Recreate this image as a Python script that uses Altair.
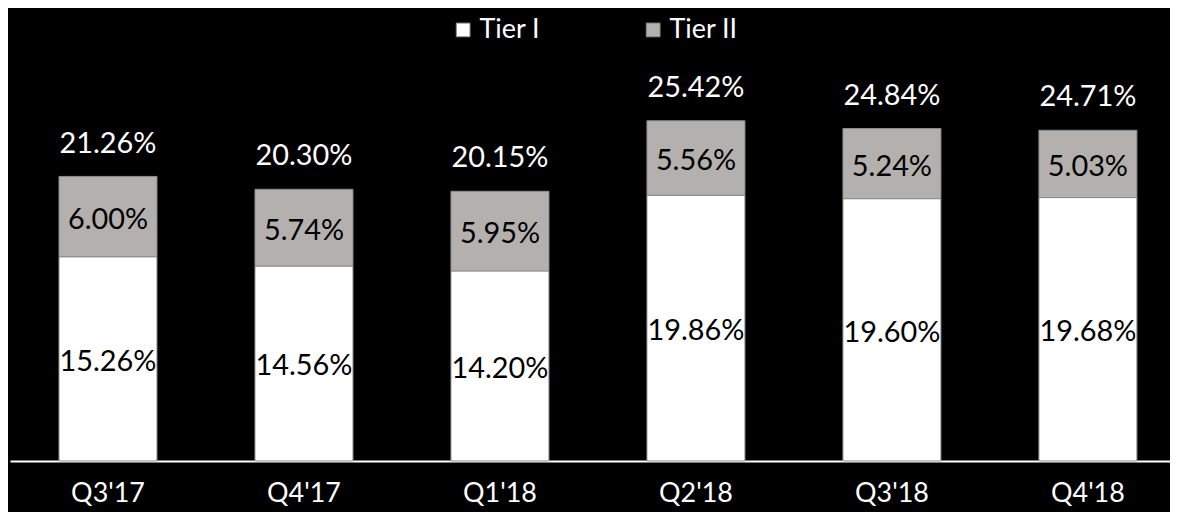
import altair as alt
import pandas as pd

quarters = ["Q3'17", "Q4'17", "Q1'18", "Q2'18", "Q3'18", "Q4'18"]
tier1 = [15.26, 14.56, 14.20, 19.86, 19.60, 19.68]
tier2 = [6.00, 5.74, 5.95, 5.56, 5.24, 5.03]
totals = [21.26, 20.30, 20.15, 25.42, 24.84, 24.71]
series = ["Tier I", "Tier II"]

rows = []
for q, a, b in zip(quarters, tier1, tier2):
    rows.append({"q": q, "series": series[0], "y0": 0.0, "y1": a, "val": a, "ord": 0})
    rows.append({"q": q, "series": series[1], "y0": a, "y1": a + b, "val": b, "ord": 1})
df = pd.DataFrame(rows)
df["mid"] = (df["y0"] + df["y1"]) / 2
df["label"] = df["val"].map(lambda v: f"{v:.2f}%")

tot = pd.DataFrame({"q": quarters, "total": totals, "top": [a + b for a, b in zip(tier1, tier2)]})
tot["label"] = tot["total"].map(lambda v: f"{v:.2f}%")

FONT = "Lato"
xscale = alt.Scale(paddingInner=0.5, paddingOuter=0.25, range=[0, 1182])
xenc = alt.X("q:N", sort=quarters, scale=xscale,
             axis=alt.Axis(title=None, labelAngle=0, labelFontSize=27, labelColor="white",
                           labelFont=FONT, ticks=False, domainColor="white", domainWidth=2,
                           labelPadding=20, grid=False))
yscale = alt.Scale(domain=[0, 31.37], nice=False, zero=True)

bars = alt.Chart(df).mark_bar(stroke="#8c8c8c", strokeWidth=1).encode(
    x=xenc,
    y=alt.Y("y0:Q", scale=yscale, axis=None),
    y2="y1:Q",
    color=alt.Color("series:N", sort=series,
                    scale=alt.Scale(domain=series, range=["#ffffff", "#b3b0ae"]),
                    legend=alt.Legend(title=None, orient="none", legendX=442, legendY=-25,
                                      direction="horizontal", labelColor="white",
                                      labelFontSize=27, labelFont=FONT, symbolType="square",
                                      symbolSize=190, symbolStrokeColor="#888888",
                                      symbolStrokeWidth=1, columnPadding=100,
                                      labelOffset=3)),
)

inner = alt.Chart(df).mark_text(font=FONT, fontSize=29, color="black", baseline="middle", dy=3).encode(
    x=alt.X("q:N", sort=quarters, scale=xscale),
    y=alt.Y("mid:Q", scale=yscale),
    text="label:N",
)

top = alt.Chart(tot).mark_text(font=FONT, fontSize=29, color="white", baseline="middle", dy=-33).encode(
    x=alt.X("q:N", sort=quarters, scale=xscale),
    y=alt.Y("top:Q", scale=yscale),
    text="label:N",
)

chart = alt.layer(bars, inner, top).properties(
    width=1166, height=422,
    background="black",
    padding={"left": 2, "top": 32, "right": 0, "bottom": 50},
    autosize=alt.AutoSizeParams(type="none"),
).configure_view(stroke=None)

chart.save("out.html", embed_options={"renderer": "svg", "actions": False})
